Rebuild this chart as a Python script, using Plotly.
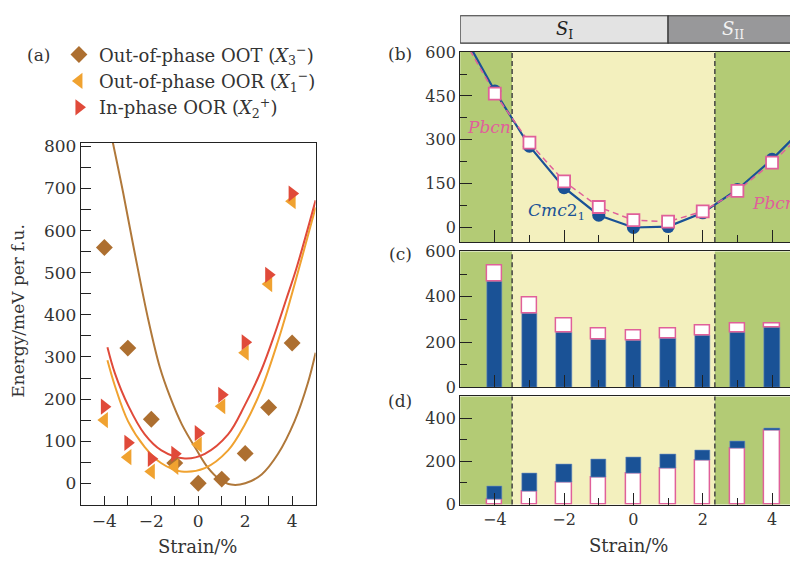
import plotly.graph_objects as go

# The page puts the figure 8 px in from the top-left corner; compensate.
OFF = 8
W, H = 798 - OFF, 569 - OFF
def fx(px): return (px - OFF) / W
def fy(py): return 1 - (py - OFF) / H

FONT = "DejaVu Serif"
TXT = "#333333"

# ---------------- data ----------------
strain = [-4, -3, -2, -1, 0, 1, 2, 3, 4]
oot_x3 = [560, 321, 152, 48, 0, 10, 71, 180, 333]
oor_x1 = [150, 62, 28, 39, 92, 183, 310, 473, 670]
oor_x2 = [182, 96, 58, 70, 119, 210, 335, 495, 688]

# fitted curves
fit_oot_x = [-3.65, -3.2, -2.7, -2.14, -1.64, -1.2, -0.7, -0.08, 0.4, 0.9, 1.4, 2.0, 2.7, 3.4, 4.1, 4.67, 5.0]
fit_oot_y = [812, 690, 545, 391, 276, 205, 140, 80, 38, 10, -3, 0, 21, 70, 147, 238, 310]
fit_x1_x = [-3.87, -3.55, -2.99, -2.28, -1.57, -0.72, 0.28, 1.27, 1.98, 2.69, 3.40, 3.89, 5.0]
fit_x1_y = [292, 231, 147, 86, 47.5, 28, 36, 78, 139, 223, 338, 430, 655]
fit_x2_x = [-3.87, -3.55, -2.99, -2.28, -1.57, -0.57, 0.28, 1.27, 1.98, 2.69, 3.26, 3.75, 4.18, 5.0]
fit_x2_y = [323, 261, 185, 116, 78, 59, 70, 116, 185, 269, 355, 437, 510, 672]

# panel (b)
strain_ext = [-5, -4, -3, -2, -1, 0, 1, 2, 3, 4, 5]
cmc_e = [680, 467, 278, 136, 42, 0, 3, 50, 130, 233, 352]
pbcn_e = [665, 458, 290, 158, 70, 25, 20, 55, 125, 222, 335]

# panel (c)
c_blue = [469, 326, 243, 210, 206, 214, 227, 244, 263]
c_total = [537, 397, 305, 261, 251, 261, 271, 280, 283]
# panel (d)
d_white = [25, 62, 101, 127, 145, 166, 203, 261, 342]
d_total = [83, 145, 187, 207, 216, 230, 252, 293, 354]

# phase regions
reg_left, reg_right = -3.5, 2.35
s_split = 1.0

C_OOT = "#ad6f30"
C_X1 = "#f0a230"
C_X2 = "#e04a3a"
C_BLUE = "#1a5296"
C_PINK = "#e0609a"
C_GREEN = "#b3cb75"
C_YEL = "#f3f0be"

fig = go.Figure()

# ---- panel (a) curves ----
fig.add_trace(go.Scatter(x=fit_oot_x, y=fit_oot_y, mode="lines", line=dict(color="#b0783a", width=2, shape="spline"),
                         showlegend=False, xaxis="x", yaxis="y"))
fig.add_trace(go.Scatter(x=fit_x1_x, y=fit_x1_y, mode="lines", line=dict(color=C_X1, width=2, shape="spline"),
                         showlegend=False, xaxis="x", yaxis="y"))
fig.add_trace(go.Scatter(x=fit_x2_x, y=fit_x2_y, mode="lines", line=dict(color=C_X2, width=2, shape="spline"),
                         showlegend=False, xaxis="x", yaxis="y"))
# ---- panel (a) markers ----
fig.add_trace(go.Scatter(x=strain, y=oot_x3, mode="markers", name="Out-of-phase OOT (<i>X</i><sub>3</sub><sup>−</sup>)",
                         marker=dict(symbol="diamond", size=13, color=C_OOT), legendgroup="a", xaxis="x", yaxis="y"))
fig.add_trace(go.Scatter(x=strain, y=oor_x1, mode="markers", name="Out-of-phase OOR (<i>X</i><sub>1</sub><sup>−</sup>)",
                         marker=dict(symbol="triangle-left", size=14, color=C_X1), legendgroup="b", xaxis="x", yaxis="y"))
fig.add_trace(go.Scatter(x=strain, y=oor_x2, mode="markers", name="In-phase OOR (<i>X</i><sub>2</sub><sup>+</sup>)",
                         marker=dict(symbol="triangle-right", size=14, color=C_X2), legendgroup="c", xaxis="x", yaxis="y"))

# ---- panel (b) ----
fig.add_trace(go.Scatter(x=strain_ext, y=cmc_e, mode="lines", line=dict(color=C_BLUE, width=2.2),
                         showlegend=False, xaxis="x2", yaxis="y2"))
fig.add_trace(go.Scatter(x=strain_ext, y=pbcn_e, mode="lines", line=dict(color=C_PINK, width=1.5, dash="6px,4px"),
                         showlegend=False, xaxis="x2", yaxis="y2"))
fig.add_trace(go.Scatter(x=strain, y=cmc_e[1:-1], mode="markers", marker=dict(symbol="circle", size=13, color=C_BLUE),
                         showlegend=False, xaxis="x2", yaxis="y2"))
fig.add_trace(go.Scatter(x=strain, y=pbcn_e[1:-1], mode="markers",
                         marker=dict(symbol="square", size=12, color="white", line=dict(color=C_PINK, width=1.8)),
                         showlegend=False, xaxis="x2", yaxis="y2"))

# ---- panel (c) ----
BW = 0.44
fig.add_trace(go.Bar(x=strain, y=c_blue, width=BW, marker=dict(color=C_BLUE, line=dict(color="#6d8fbf", width=0.6)),
                     showlegend=False, xaxis="x3", yaxis="y3"))
fig.add_trace(go.Bar(x=strain, y=[t - b for t, b in zip(c_total, c_blue)], base=c_blue, width=BW,
                     marker=dict(color="white", line=dict(color=C_PINK, width=1.5)),
                     showlegend=False, xaxis="x3", yaxis="y3"))
# ---- panel (d) ----
fig.add_trace(go.Bar(x=strain, y=d_white, width=BW, marker=dict(color="white", line=dict(color=C_PINK, width=1.5)),
                     showlegend=False, xaxis="x4", yaxis="y4"))
fig.add_trace(go.Bar(x=strain, y=[t - w for t, w in zip(d_total, d_white)], base=d_white, width=BW,
                     marker=dict(color=C_BLUE, line=dict(color="#6d8fbf", width=0.6)),
                     showlegend=False, xaxis="x4", yaxis="y4"))

# ---------------- axes ----------------
def ax_common(size=16, **kw):
    d = dict(showline=True, linecolor="#222", linewidth=1.2, mirror=True, ticks="inside",
             tickcolor="#222", tickwidth=1.2, tickfont=dict(family=FONT, size=size, color=TXT),
             showgrid=False, zeroline=False)
    d.update(kw)
    return d

def minor(dt, ln):
    return dict(dtick=dt, tick0=0, ticklen=ln, ticks="inside", tickcolor="#222", tickwidth=1.2)

XD = [fx(460.7), 1.0]
shapes = []
annotations = []

fig.update_layout(
    xaxis=ax_common(17, domain=[fx(81), fx(316)], range=[-5, 5], dtick=2, tick0=0, ticklen=9,
                    minor=minor(1, 9), anchor="y"),
    yaxis=ax_common(17, domain=[fy(513.3), fy(138)], range=[-52, 809], dtick=100, tick0=0, ticklen=10,
                    minor=minor(50, 10), anchor="x"),
    xaxis2=ax_common(domain=XD, range=[-5, 4.72], dtick=2, tick0=0, ticklen=12, showticklabels=False,
                     minor=minor(1, 7), anchor="y2"),
    yaxis2=ax_common(domain=[fy(241), fy(44.3)], range=[-50, 600], dtick=150, tick0=0, ticklen=12,
                     minor=minor(75, 7), anchor="x2"),
    xaxis3=ax_common(domain=XD, range=[-5, 4.72], dtick=2, tick0=0, ticklen=12, showticklabels=False,
                     minor=minor(1, 7), anchor="y3"),
    yaxis3=ax_common(domain=[fy(391.3), fy(250.7)], range=[0, 600], dtick=200, tick0=0, ticklen=12,
                     minor=minor(100, 7), anchor="x3"),
    xaxis4=ax_common(domain=XD, range=[-5, 4.72], dtick=2, tick0=0, ticklen=12,
                     minor=minor(1, 7), anchor="y4"),
    yaxis4=ax_common(domain=[fy(512.7), fy(400.7)], range=[0, 500], dtick=200, tick0=0, ticklen=12,
                     minor=minor(100, 7), anchor="x4"),
)

# backgrounds and dashed boundaries
for xa, ya in [("x2", "y2"), ("x3", "y3"), ("x4", "y4")]:
    for x0, x1, c in [(-5, reg_left, C_GREEN), (reg_left, reg_right, C_YEL), (reg_right, 5, C_GREEN)]:
        shapes.append(dict(type="rect", xref=xa, yref=ya + " domain", x0=x0, x1=x1, y0=0, y1=1,
                           fillcolor=c, line=dict(width=0), layer="below"))
    for xv in (reg_left, reg_right):
        shapes.append(dict(type="line", xref=xa, yref=ya + " domain", x0=xv, x1=xv, y0=0, y1=1,
                           line=dict(color="#444", width=1.5, dash="5px,3px"), layer="below"))

# top phase bar
shapes.append(dict(type="rect", xref="x2", yref="paper", x0=-5, x1=s_split, y0=fy(35), y1=fy(6.7),
                   fillcolor="#e3e3e3", line=dict(color="#333", width=1.2)))
shapes.append(dict(type="rect", xref="x2", yref="paper", x0=s_split, x1=5, y0=fy(35), y1=fy(6.7),
                   fillcolor="#98989a", line=dict(color="#333", width=1.2)))

def ann(text, x, y, xref="paper", yref="paper", size=17, color=TXT, **kw):
    d = dict(text=text, x=x, y=y, xref=xref, yref=yref, showarrow=False, xanchor="center", yanchor="middle",
             font=dict(family=FONT, size=size, color=color))
    d.update(kw)
    annotations.append(d)

ann("<i>S</i><sub>I</sub>", -2, fy(21), xref="x2", size=18, color="#222")
ann("<i>S</i><sub>II</sub>", 2.86, fy(21), xref="x2", size=18, color="#f2f2f2")

# panel texts
ann("<i>Pbcn</i>", -4.18, 345, xref="x2", yref="y2", size=17, color=C_PINK)
ann("<i>Pbcn</i>", 4.06, 83, xref="x2", yref="y2", size=17, color=C_PINK)
ann("<i>Cmc</i>2<sub>1</sub>", -2.22, 53, xref="x2", yref="y2", size=17, color=C_BLUE)

for t, px, py in [("(a)", 38.5, 47), ("(b)", 400.5, 46), ("(c)", 400.5, 253), ("(d)", 400.5, 405)]:
    ann(t, fx(px), fy(py), size=17)
ann("Energy/meV per f.u.", fx(18), fy(312), size=17, textangle=-90)
ann("Strain/%", fx(198), fy(556), size=18)
ann("Strain/%", fx(629), fy(555), size=18)

fig.update_layout(
    width=W, height=H, margin=dict(l=0, r=0, t=0, b=0),
    paper_bgcolor="white", plot_bgcolor="white",
    barmode="overlay", bargap=0,
    shapes=shapes, annotations=annotations,
    showlegend=True,
    legend=dict(x=fx(59), y=fy(28), xanchor="left", yanchor="top", bgcolor="rgba(0,0,0,0)",
                font=dict(family=FONT, size=18, color=TXT), tracegroupgap=3, traceorder="normal"),
)

fig.write_html("out.html")
